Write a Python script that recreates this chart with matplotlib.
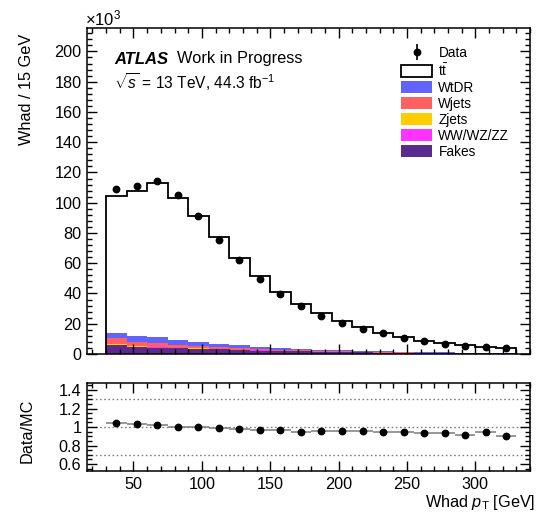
import matplotlib
matplotlib.use("Agg")
import numpy as np
import matplotlib.pyplot as plt
from matplotlib.patches import Patch
from matplotlib.lines import Line2D
from matplotlib.ticker import MultipleLocator, FormatStrFormatter

plt.rcParams['font.family'] = ['Liberation Sans', 'DejaVu Sans']
plt.rcParams['mathtext.fontset'] = 'custom'
plt.rcParams['mathtext.rm'] = 'Liberation Sans'
plt.rcParams['mathtext.it'] = 'Liberation Sans:italic'
plt.rcParams['mathtext.bf'] = 'Liberation Sans:bold'

# ---------------- data (values in units of 10^3 per 15 GeV) ----------------
bin_edges = [30, 45, 60, 75, 90, 105, 120, 135, 150, 165, 180,
             195, 210, 225, 240, 255, 270, 285, 300, 315, 330]
data_vals = [108.8, 111.0, 114.3, 104.8, 91.1, 75.6, 62.4, 49.6, 39.8, 31.4,
             25.2, 20.4, 16.4, 13.7, 10.4, 8.8, 6.6, 5.5, 4.8, 3.8]
ttbar = [90.5, 96.0, 101.8, 93.7, 83.0, 70.6, 57.8, 46.6, 37.2, 29.9,
         24.3, 19.1, 15.6, 12.4, 9.6, 7.5, 6.0, 4.7, 4.1, 3.4]
wtdr = [3.0, 3.7, 4.0, 3.7, 2.9, 2.2, 2.0, 1.5, 1.3, 1.1,
        0.9, 0.75, 0.6, 0.5, 0.4, 0.35, 0.3, 0.25, 0.2, 0.18]
wjets = [4.6, 3.0, 2.4, 1.7, 1.5, 1.1, 0.9, 0.7, 0.6, 0.5,
         0.4, 0.35, 0.3, 0.25, 0.2, 0.18, 0.15, 0.12, 0.1, 0.08]
zjets = [0.2, 0.2, 0.18, 0.16, 0.14, 0.12, 0.1, 0.09, 0.08, 0.07,
         0.06, 0.05, 0.04, 0.04, 0.03, 0.03, 0.02, 0.02, 0.02, 0.01]
diboson = [0.3, 0.25, 0.22, 0.2, 0.18, 0.16, 0.14, 0.12, 0.1, 0.09,
           0.08, 0.07, 0.06, 0.05, 0.04, 0.04, 0.03, 0.03, 0.02, 0.02]
fakes = [5.8, 4.6, 4.2, 3.8, 3.4, 3.0, 2.6, 2.3, 2.0, 1.7,
         1.5, 1.3, 1.1, 0.9, 0.8, 0.7, 0.6, 0.5, 0.4, 0.35]
ratio_vals = [1.044, 1.037, 1.022, 1.0, 1.0, 0.985, 0.978, 0.963, 0.970, 0.948,
              0.956, 0.956, 0.956, 0.948, 0.941, 0.933, 0.933, 0.919, 0.941, 0.904]

# stack order: bottom -> top
stack_names = ['Fakes', 'WW/WZ/ZZ', 'Zjets', 'Wjets', 'WtDR']
stack_vals = [fakes, diboson, zjets, wjets, wtdr]
stack_cols = ['#5b2a8e', '#ff33ff', '#ffcc00', '#ff6060', '#6262ff']

edges = np.array(bin_edges, dtype=float)
centers = 0.5 * (edges[:-1] + edges[1:])
halfw = 0.5 * np.diff(edges)

W, H = 536, 517
fig = plt.figure(figsize=(W / 100, H / 100), dpi=100)

def fx(px):
    return px / W

def fy(py):
    return 1 - py / H

ax = fig.add_axes([fx(87), fy(354), fx(530) - fx(87), fy(28) - fy(354)])
axr = fig.add_axes([fx(87), fy(471), fx(530) - fx(87), fy(383) - fy(471)])

# ---------------- main panel ----------------
base = np.zeros(len(centers))
for name, vals, col in zip(stack_names, stack_vals, stack_cols):
    top = base + np.array(vals)
    ax.stairs(top, edges, baseline=base, fill=True, color=col, lw=0)
    base = top
total = base + np.array(ttbar)
ax.stairs(total, edges, baseline=base, fill=True, color='white', lw=0)
ax.stairs(total, edges, baseline=0, fill=False, color='black', lw=1.3)
ax.plot(centers, data_vals, 'o', color='black', ms=4.6, zorder=5)

ax.set_xlim(16, 340)
ax.set_ylim(0, 215.5)
ax.xaxis.set_major_locator(MultipleLocator(50))
ax.xaxis.set_minor_locator(MultipleLocator(10))
ax.yaxis.set_major_locator(MultipleLocator(20))
ax.yaxis.set_minor_locator(MultipleLocator(4))
ax.tick_params(which='both', direction='in', top=True, right=True, labelsize=11.7, width=1)
ax.tick_params(which='major', length=7.5)
ax.tick_params(which='minor', length=3.8)
ax.tick_params(axis='x', labelbottom=False)
ax.tick_params(axis='y', pad=4)
for s in ax.spines.values():
    s.set_linewidth(1.1)

fig.text(fx(85), fy(18), r'$\times$10$^{3}$', fontsize=12, ha='left', va='center')
fig.text(fx(27), fy(34), 'Whad / 15 GeV', rotation=90, fontsize=11.7, ha='center', va='top')

ax.text((114 - 87) / 443, 1 - (59 - 28) / 326, 'ATLAS', transform=ax.transAxes,
        fontsize=12, fontweight='bold', fontstyle='italic', ha='left', va='center')
ax.text((177 - 87) / 443, 1 - (59 - 28) / 326, 'Work in Progress', transform=ax.transAxes,
        fontsize=11.8, ha='left', va='center')
ax.text((114 - 87) / 443, 1 - (82 - 28) / 326, r'$\sqrt{s}$ = 13 TeV, 44.3 fb$^{-1}$',
        transform=ax.transAxes, fontsize=11.2, ha='left', va='center')

data_handle = (Line2D([], [], marker='|', ms=11, mew=1.2, color='black', ls=''),
               Line2D([], [], marker='o', ms=4.6, color='black', ls=''))
handles = [data_handle,
           Patch(facecolor='white', edgecolor='black', lw=1.3)]
labels = ['Data', r'$\mathrm{t\bar{t}}$']
for name, col in zip(stack_names[::-1], stack_cols[::-1]):
    handles.append(Patch(facecolor=col, edgecolor='none'))
    labels.append(name)
ax.legend(handles, labels, loc='upper left',
          bbox_to_anchor=((401 - 87) / 443, 1 - (46 - 28) / 326),
          frameon=False, fontsize=9.8, handlelength=2.3, handleheight=0.95,
          handletextpad=0.45, labelspacing=0.15, borderpad=0, borderaxespad=0)

# ---------------- ratio panel ----------------
for y in (0.7, 1.0, 1.3):
    axr.axhline(y, color='#808080', lw=1, ls=(0, (1.2, 1.8)), zorder=1)
axr.errorbar(centers, ratio_vals, xerr=halfw, fmt='none', ecolor='#7a7a7a', elinewidth=1.1, zorder=2)
axr.plot(centers, ratio_vals, 'o', color='black', ms=4.6, zorder=3)
axr.set_xlim(16, 340)
axr.set_ylim(0.524, 1.477)
axr.xaxis.set_major_locator(MultipleLocator(50))
axr.xaxis.set_minor_locator(MultipleLocator(10))
axr.yaxis.set_major_locator(MultipleLocator(0.2))
axr.yaxis.set_minor_locator(MultipleLocator(0.05))
axr.yaxis.set_major_formatter(FormatStrFormatter('%g'))
axr.tick_params(which='both', direction='in', top=True, right=True, labelsize=11.7, width=1)
axr.tick_params(which='major', length=7.5)
axr.tick_params(which='minor', length=3.8)
axr.tick_params(axis='x', pad=4)
axr.tick_params(axis='y', pad=4)
for s in axr.spines.values():
    s.set_linewidth(1.1)

fig.text(fx(27), fy(431), 'Data/MC', rotation=90, fontsize=11.7, ha='center', va='center')
fig.text(fx(535), fy(502), r'Whad $p_{\mathrm{T}}$ [GeV]', fontsize=11.7, ha='right', va='center')

fig.savefig('out.png', dpi=100)
